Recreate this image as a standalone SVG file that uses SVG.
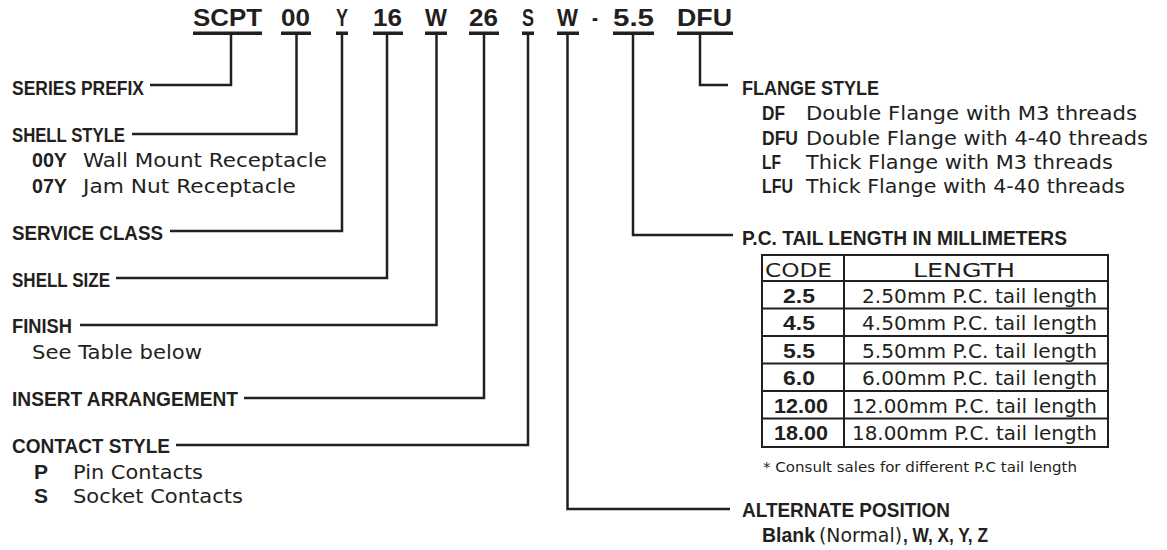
<svg xmlns="http://www.w3.org/2000/svg" width="1167" height="550" viewBox="0 0 1167 550">
<style>
.h{font-family:"Liberation Sans",Arial,sans-serif;font-weight:bold;font-size:23px;fill:#231f20}
.b{font-family:"Liberation Sans",Arial,sans-serif;font-weight:bold;font-size:21px;fill:#231f20}
.r{font-family:"DejaVu Sans",Verdana,sans-serif;font-size:20px;fill:#231f20}
.f{font-family:"DejaVu Sans",Verdana,sans-serif;font-size:14px;fill:#231f20}
.ln{stroke:#231f20;stroke-width:2.5;fill:none}
.tb{stroke:#231f20;stroke-width:2;fill:none}
.bar{fill:#231f20}
</style>
<rect width="1167" height="550" fill="#ffffff"/>
<g id="part-number">
<text class="h" x="193" y="26" textLength="69" lengthAdjust="spacingAndGlyphs">SCPT</text>
<text class="h" x="281" y="26" textLength="29" lengthAdjust="spacingAndGlyphs">00</text>
<text class="h" x="336" y="26" textLength="12" lengthAdjust="spacingAndGlyphs">Y</text>
<text class="h" x="373" y="26" textLength="29" lengthAdjust="spacingAndGlyphs">16</text>
<text class="h" x="425" y="26" textLength="22" lengthAdjust="spacingAndGlyphs">W</text>
<text class="h" x="469" y="26" textLength="29" lengthAdjust="spacingAndGlyphs">26</text>
<text class="h" x="522" y="26" textLength="12" lengthAdjust="spacingAndGlyphs">S</text>
<text class="h" x="557" y="26" textLength="21" lengthAdjust="spacingAndGlyphs">W</text>
<text class="h" x="592" y="26" textLength="6" lengthAdjust="spacingAndGlyphs">-</text>
<text class="h" x="613" y="26" textLength="41" lengthAdjust="spacingAndGlyphs">5.5</text>
<text class="h" x="677" y="26" textLength="55" lengthAdjust="spacingAndGlyphs">DFU</text>
<rect class="bar" x="193" y="31.5" width="69" height="3.5"/>
<rect class="bar" x="281" y="31.5" width="30" height="3.5"/>
<rect class="bar" x="336" y="31.5" width="12" height="3.5"/>
<rect class="bar" x="373" y="31.5" width="30" height="3.5"/>
<rect class="bar" x="425" y="31.5" width="22" height="3.5"/>
<rect class="bar" x="469" y="31.5" width="30" height="3.5"/>
<rect class="bar" x="522" y="31.5" width="12" height="3.5"/>
<rect class="bar" x="557" y="31.5" width="22" height="3.5"/>
<rect class="bar" x="613" y="31.5" width="41" height="3.5"/>
<rect class="bar" x="677" y="31.5" width="56" height="3.5"/>
</g>
<g id="connectors">
<polyline class="ln" points="231,35 231,85 150,85"/>
<polyline class="ln" points="296.5,35 296.5,134 132,134"/>
<polyline class="ln" points="342,35 342,231 170,231"/>
<polyline class="ln" points="387,35 387,278 116,278"/>
<polyline class="ln" points="436.5,35 436.5,325 80,325"/>
<polyline class="ln" points="484,35 484,398 244,398"/>
<polyline class="ln" points="528,35 528,445 176,445"/>
<polyline class="ln" points="567.5,35 567.5,509 730,509"/>
<polyline class="ln" points="633,35 633,235 733,235"/>
<polyline class="ln" points="700,35 700,85 728,85"/>
</g>
<g id="series-prefix">
<text class="b" x="12" y="95" textLength="132" lengthAdjust="spacingAndGlyphs">SERIES PREFIX</text>
</g>
<g id="shell-style">
<text class="b" x="12" y="142" textLength="113" lengthAdjust="spacingAndGlyphs">SHELL STYLE</text>
<text class="b" x="32" y="167" textLength="35" lengthAdjust="spacingAndGlyphs">00Y</text>
<text class="r" x="83" y="167" textLength="244" lengthAdjust="spacingAndGlyphs">Wall Mount Receptacle</text>
<text class="b" x="32" y="193" textLength="35" lengthAdjust="spacingAndGlyphs">07Y</text>
<text class="r" x="83" y="193" textLength="213" lengthAdjust="spacingAndGlyphs">Jam Nut Receptacle</text>
</g>
<g id="service-class">
<text class="b" x="12" y="240" textLength="151" lengthAdjust="spacingAndGlyphs">SERVICE CLASS</text>
</g>
<g id="shell-size">
<text class="b" x="12" y="287" textLength="98" lengthAdjust="spacingAndGlyphs">SHELL SIZE</text>
</g>
<g id="finish">
<text class="b" x="12" y="333" textLength="60" lengthAdjust="spacingAndGlyphs">FINISH</text>
<text class="r" x="32" y="359" textLength="170" lengthAdjust="spacingAndGlyphs">See Table below</text>
</g>
<g id="insert-arrangement">
<text class="b" x="12" y="406" textLength="226" lengthAdjust="spacingAndGlyphs">INSERT ARRANGEMENT</text>
</g>
<g id="contact-style">
<text class="b" x="12" y="453" textLength="158" lengthAdjust="spacingAndGlyphs">CONTACT STYLE</text>
<text class="b" x="34" y="479">P</text>
<text class="r" x="73" y="479" textLength="130" lengthAdjust="spacingAndGlyphs">Pin Contacts</text>
<text class="b" x="34" y="503">S</text>
<text class="r" x="73" y="503" textLength="170" lengthAdjust="spacingAndGlyphs">Socket Contacts</text>
</g>
<g id="flange-style">
<text class="b" x="742" y="95" textLength="137" lengthAdjust="spacingAndGlyphs">FLANGE STYLE</text>
<text class="b" x="762" y="120" textLength="23" lengthAdjust="spacingAndGlyphs">DF</text>
<text class="r" x="806" y="120" textLength="331" lengthAdjust="spacingAndGlyphs">Double Flange with M3 threads</text>
<text class="b" x="762" y="145" textLength="36" lengthAdjust="spacingAndGlyphs">DFU</text>
<text class="r" x="806" y="145" textLength="342" lengthAdjust="spacingAndGlyphs">Double Flange with 4-40 threads</text>
<text class="b" x="762" y="169" textLength="19" lengthAdjust="spacingAndGlyphs">LF</text>
<text class="r" x="806" y="169" textLength="307" lengthAdjust="spacingAndGlyphs">Thick Flange with M3 threads</text>
<text class="b" x="762" y="193" textLength="31" lengthAdjust="spacingAndGlyphs">LFU</text>
<text class="r" x="806" y="193" textLength="319" lengthAdjust="spacingAndGlyphs">Thick Flange with 4-40 threads</text>
</g>
<g id="tail-length">
<text class="b" x="742" y="245" textLength="325" lengthAdjust="spacingAndGlyphs">P.C. TAIL LENGTH IN MILLIMETERS</text>
<rect class="tb" x="762" y="255" width="346" height="192"/>
<line class="tb" x1="844" y1="255" x2="844" y2="447"/>
<line class="tb" x1="762" y1="281" x2="1108" y2="281" stroke-width="2.5"/>
<line class="tb" x1="762" y1="308.5" x2="1108" y2="308.5" stroke-width="2.5"/>
<line class="tb" x1="762" y1="336" x2="1108" y2="336" stroke-width="2.5"/>
<line class="tb" x1="762" y1="363.5" x2="1108" y2="363.5" stroke-width="2.5"/>
<line class="tb" x1="762" y1="391" x2="1108" y2="391" stroke-width="2.5"/>
<line class="tb" x1="762" y1="418.5" x2="1108" y2="418.5" stroke-width="2.5"/>
<text class="r" x="765" y="277" textLength="67" lengthAdjust="spacingAndGlyphs">CODE</text>
<text class="r" x="913" y="277" textLength="102" lengthAdjust="spacingAndGlyphs">LENGTH</text>
<text class="b" x="783" y="302.5" textLength="32" lengthAdjust="spacingAndGlyphs">2.5</text>
<text class="r" x="862" y="302.5" textLength="235" lengthAdjust="spacingAndGlyphs">2.50mm P.C. tail length</text>
<text class="b" x="783" y="330" textLength="32" lengthAdjust="spacingAndGlyphs">4.5</text>
<text class="r" x="862" y="330" textLength="235" lengthAdjust="spacingAndGlyphs">4.50mm P.C. tail length</text>
<text class="b" x="783" y="357.5" textLength="32" lengthAdjust="spacingAndGlyphs">5.5</text>
<text class="r" x="862" y="357.5" textLength="235" lengthAdjust="spacingAndGlyphs">5.50mm P.C. tail length</text>
<text class="b" x="783" y="385" textLength="32" lengthAdjust="spacingAndGlyphs">6.0</text>
<text class="r" x="862" y="385" textLength="235" lengthAdjust="spacingAndGlyphs">6.00mm P.C. tail length</text>
<text class="b" x="774" y="412.5" textLength="54" lengthAdjust="spacingAndGlyphs">12.00</text>
<text class="r" x="852" y="412.5" textLength="245" lengthAdjust="spacingAndGlyphs">12.00mm P.C. tail length</text>
<text class="b" x="774" y="440" textLength="54" lengthAdjust="spacingAndGlyphs">18.00</text>
<text class="r" x="852" y="440" textLength="245" lengthAdjust="spacingAndGlyphs">18.00mm P.C. tail length</text>
<text class="f" x="763" y="472" textLength="314" lengthAdjust="spacingAndGlyphs">* Consult sales for different P.C tail length</text>
</g>
<g id="alternate-position">
<text class="b" x="742" y="517" textLength="208" lengthAdjust="spacingAndGlyphs">ALTERNATE POSITION</text>
<text class="b" x="762" y="542" textLength="53" lengthAdjust="spacingAndGlyphs">Blank</text>
<text class="r" x="819" y="542" textLength="83" lengthAdjust="spacingAndGlyphs">(Normal)</text>
<text class="b" x="903" y="542" textLength="85" lengthAdjust="spacingAndGlyphs">, W, X, Y, Z</text>
</g>
</svg>
